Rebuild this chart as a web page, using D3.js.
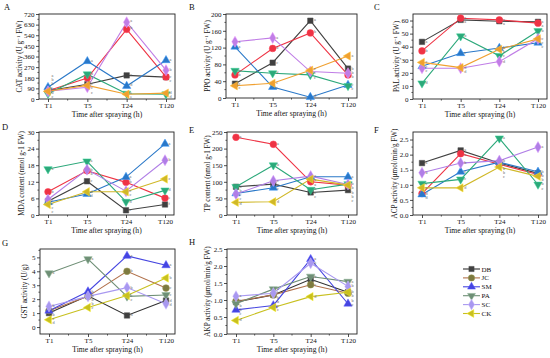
<!DOCTYPE html>
<html><head><meta charset="utf-8">
<script src="https://cdn.jsdelivr.net/npm/d3@7"></script>
<style>body{margin:0;background:#fff}svg{display:block}</style>
</head><body>
<svg id="c" width="550" height="358"></svg>
<script>
// ---------- DATA ----------
const times = ["T1", "T5", "T24", "T120"];
const seriesNames = ["DB", "JC", "SM", "PA", "SC", "CK"];

// rows: DB, JC, SM, PA, SC, CK ; columns: T1, T5, T24, T120
const catValues = [[70,125,200,185],[70,178,590,187],[100,320,110,328],[45,210,45,40],[65,100,650,244],[65,115,40,50]];
const ppoValues = [[34,84,184,70],[55,118,155,55],[122,26,2,31],[65,59,55,29],[134,143,63,59],[29,35,66,100]];
const palValues = [[43.7,60.5,59.5,59],[36.8,61.8,60.5,58],[25,35,39,43],[12,48,33,52],[23.5,23.5,28.6,46],[28,24,38,46]];
const mdaValues = [[5,12.2,1.7,3.8],[8.4,16,11.8,6.1],[4.6,7.6,13.7,25.7],[16.6,19.4,4.8,8.9],[5.6,16.4,8.6,19.8],[3.8,8.4,8.4,13]];
const tpValues  = [[85,93,68,75],[234,213,100,90],[65,82,115,115],[85,150,76,93],[63,103,117,92],[38,40,108,90]];
const acpValues = [[1.72,2.14,1.72,1.38],[0.71,2.03,1.68,1.34],[0.68,1.43,1.75,1.43],[1.04,1.18,2.54,1.01],[1.4,1.72,1.8,2.25],[0.9,0.9,1.59,1.28]];
const gstValues = [[1.0,2.24,0.83,1.9],[1.17,2.2,4.0,2.8],[1.17,2.55,5.1,4.43],[3.86,4.88,2.2,2.3],[1.48,2.2,2.83,1.67],[0.52,1.4,2.26,3.52]];
const akpValues = [[0.94,1.15,1.61,1.23],[0.96,1.15,1.45,1.2],[0.71,0.84,2.2,0.89],[0.89,1.32,1.69,1.54],[1.11,1.2,2.08,1.4],[0.4,0.78,1.1,1.23]];

// significance letters (per series, one char per time point)
const catLetters = ["bccc","bbbc","aada","cbed","bcab","bced"];
const ppoLetters = ["ccab","bbbb","aedc","bdcc","aacb","ceca"];
const palLetters = ["aaaa","baaa","ccbc","dbcb","cddc","cdbc"];
const mdaLetters = ["ccef","bbbe","cdaa","aadd","cbcb","cdcc"];
const tpLetters  = ["bccc","aabb","ccaa","bbcb","ccab","ddab"];
const acpLetters = ["aabb","dabb","dcbb","ccac","bbba","cdcb"];
const gstLetters = ["cbdd","bbbc","bbaa","aacc","bbbd","dccb"];
const akpLetters = ["bbcb","bbcb","ccac","baba","abab","dcdb"];

// tick labels
const catTicks = [0,90,180,270,360,450,540,630,720];
const ppoTicks = [0,40,80,120,160,200];
const palTicks = [0,10,20,30,40,50,60];
const mdaTicks = [0,6,12,18,24,30];
const tpTicks  = [0,50,100,150,200,250];
const acpTicks = [0,0.5,1.0,1.5,2.0,2.5];
const gstTicks = [0,1,2,3,4,5];
const akpTicks = [0,0.5,1.0,1.5,2.0,2.5];

// ---------- STYLE ----------
const pal1 = {line:["#404040","#ee3344","#2a78c8","#2ca87a","#c07ee6","#f0a030"], fill:["#404040","#ee3344","#2a78c8","#2ca87a","#c07ee6","#f0a030"]};
const pal2 = {line:["#404040","#ee3344","#2a78c8","#2ca87a","#b07ee6","#d0b828"], fill:["#404040","#ee3344","#2a78c8","#2ca87a","#b07ee6","#d0b828"]};
const pal3 = {line:["#303030","#b0704a","#4545e0","#6f8f76","#a898f0","#c8c020"], fill:["#404040","#7d7a40","#4545e0","#6f8f76","#a898f0","#c8c020"]};

const font = "'Liberation Serif','Times New Roman',serif";
const svg = d3.select("#c");

const symbols = [
  {t: d3.symbolSquare, s: 30, r: 0},
  {t: d3.symbolCircle, s: 36, r: 0},
  {t: d3.symbolTriangle, s: 30, r: 0},
  {t: d3.symbolTriangle, s: 30, r: 180},
  {t: d3.symbolDiamond, s: 36, r: 0},
  {t: d3.symbolTriangle, s: 30, r: -90}
];

const panels = [
  {id:"A", box:[39,14,175,99],  lp:[4,10],    yd:[0,720],  ticks:catTicks, fmt:d3.format("d"), data:catValues, lets:catLetters, title:["CAT activity (U g","−1"," FW)"], tx:22, pal:pal1},
  {id:"B", box:[226,14,357,98], lp:[189,10],  yd:[0,200],  ticks:ppoTicks, fmt:d3.format("d"), data:ppoValues, lets:ppoLetters, title:["PPO activity (U g","−1"," FW)"], tx:210, pal:pal1},
  {id:"C", box:[413,14,547,99], lp:[374,10],  yd:[0,65],   ticks:palTicks, fmt:d3.format("d"), data:palValues, lets:palLetters, title:["PAL activity (U g","−1"," FW)"], tx:399, pal:pal1},
  {id:"D", box:[39,132,174,215], lp:[2,130],  yd:[0,30],   ticks:mdaTicks, fmt:d3.format("d"), data:mdaValues, lets:mdaLetters, title:["MDA content (nmol g-1 FW)"], tx:24, pal:pal2},
  {id:"E", box:[227,132,357,215], lp:[189,133], yd:[0,250], ticks:tpTicks, fmt:d3.format("d"), data:tpValues, lets:tpLetters, title:["TP content (nmol g-1 FW)"], tx:210, pal:pal2},
  {id:"F", box:[413,132,547,215], lp:[374,133], yd:[0,2.75], ticks:acpTicks, fmt:d3.format(".1f"), data:acpValues, lets:acpLetters, title:["ACP activity  (μmol/min/g FW)"], tx:397, pal:pal2},
  {id:"G", box:[40,249,175,334], lp:[2,246],  yd:[-0.5,5.6], ticks:gstTicks, fmt:d3.format("d"), data:gstValues, lets:gstLetters, title:["GST activity (U/g)"], tx:27, pal:pal3},
  {id:"H", box:[227,249,357,334], lp:[189,245], yd:[0,2.5], ticks:akpTicks, fmt:d3.format(".1f"), data:akpValues, lets:akpLetters, title:["AKP activity (μmol/min/g FW)"], tx:210, pal:pal3}
];

panels.forEach(p => {
  const [x0,y0,x1,y1] = p.box;
  const g = svg.append("g");
  const x = d3.scalePoint().domain(times).range([x0+9, x1-9]);
  const y = d3.scaleLinear().domain(p.yd).range([y1, y0]);

  g.append("text").attr("x", p.lp[0]).attr("y", p.lp[1]).text(p.id)
    .attr("font-family", font).attr("font-size", 8.5).attr("fill","#111");

  g.append("rect").attr("x",x0).attr("y",y0).attr("width",x1-x0).attr("height",y1-y0)
    .attr("fill","none").attr("stroke","#222").attr("stroke-width",0.9);

  const step = p.ticks[1]-p.ticks[0];
  const minor = d3.range(p.ticks[0]+step/2, p.yd[1], step).filter(v => v >= p.yd[0]);
  const ya = d3.axisLeft(y).tickValues(p.ticks).tickFormat(p.fmt).tickSize(3).tickPadding(1.5);
  const yg = g.append("g").attr("transform",`translate(${x0},0)`).call(ya);
  yg.select(".domain").remove();
  yg.selectAll("text").attr("font-family",font).attr("font-size",7).attr("fill","#111");
  yg.selectAll("line").attr("stroke","#222").attr("stroke-width",0.8);
  g.append("g").selectAll("line").data(minor).join("line")
    .attr("x1",x0).attr("x2",x0-1.6).attr("y1",d=>y(d)).attr("y2",d=>y(d))
    .attr("stroke","#222").attr("stroke-width",0.7);

  const xa = d3.axisBottom(x).tickSize(3).tickPadding(1.5);
  const xg = g.append("g").attr("transform",`translate(0,${y1})`).call(xa);
  xg.select(".domain").remove();
  xg.selectAll("text").attr("font-family",font).attr("font-size",7).attr("fill","#111");
  xg.selectAll("line").attr("stroke","#222").attr("stroke-width",0.8);
  const mids = d3.pairs(times).map(([a,b]) => (x(a)+x(b))/2);
  g.append("g").selectAll("line").data(mids).join("line")
    .attr("x1",d=>d).attr("x2",d=>d).attr("y1",y1).attr("y2",y1+1.6)
    .attr("stroke","#222").attr("stroke-width",0.7);

  g.append("text").attr("x",(x0+x1)/2).attr("y",y1+17.5).attr("text-anchor","middle")
    .attr("font-family",font).attr("font-size",7.6).attr("fill","#111").text("Time after spraying (h)");

  const yt = g.append("text").attr("transform",`translate(${p.tx},${(y0+y1)/2}) rotate(-90)`)
    .attr("text-anchor","middle").attr("font-family",font).attr("font-size",7.2).attr("fill","#111");
  yt.append("tspan").text(p.title[0]);
  if (p.title.length > 1) {
    yt.append("tspan").attr("dy",-2.5).attr("font-size",5).text(p.title[1]);
    yt.append("tspan").attr("dy",2.5).text(p.title[2]);
  }

  const line = d3.line().x((d,i)=>x(times[i])).y(d=>y(d));
  p.data.forEach((vals, si) => {
    g.append("path").attr("d", line(vals)).attr("fill","none")
      .attr("stroke", p.pal.line[si]).attr("stroke-width", 1.1);
  });
  p.data.forEach((vals, si) => {
    const sym = symbols[si];
    const path = d3.symbol().type(sym.t).size(sym.s)();
    vals.forEach((v, ti) => {
      g.append("path").attr("d", path)
        .attr("transform", `translate(${x(times[ti])},${y(v)}) rotate(${sym.r})`)
        .attr("fill", p.pal.fill[si]).attr("stroke", d3.color(p.pal.fill[si]).brighter(0.6)).attr("stroke-width",0.5);
    });
  });

  // significance letters, spread vertically so they don't collide
  times.forEach((t, ti) => {
    const items = p.data.map((vals, si) => ({y: y(vals[ti]) + 1, s: p.lets[si][ti]}))
      .sort((a,b) => a.y - b.y);
    const gap = 4.2;
    for (let k = 1; k < items.length; k++) {
      if (items[k].y - items[k-1].y < gap) items[k].y = items[k-1].y + gap;
    }
    const over = items[items.length-1].y - (y1 - 1);
    if (over > 0) items.forEach(it => it.y -= over);
    for (let k = items.length-2; k >= 0; k--) {
      if (items[k+1].y - items[k].y < gap) items[k].y = items[k+1].y - gap;
    }
    items.forEach(it => {
      g.append("text").attr("x", x(t)+3.6).attr("y", it.y)
        .attr("font-family",font).attr("font-size",4.2).attr("fill","#666").text(it.s);
    });
  });
});

// legend
const lg = svg.append("g");
seriesNames.forEach((n, i) => {
  const yy = 269 + i*8.9;
  lg.append("line").attr("x1",463).attr("x2",480).attr("y1",yy).attr("y2",yy)
    .attr("stroke", pal3.line[i]).attr("stroke-width",1.1);
  const sym = symbols[i];
  lg.append("path").attr("d", d3.symbol().type(sym.t).size(sym.s*0.9)())
    .attr("transform",`translate(471.5,${yy}) rotate(${sym.r})`)
    .attr("fill", pal3.fill[i]).attr("stroke", d3.color(pal3.fill[i]).brighter(0.6)).attr("stroke-width",0.5);
  lg.append("text").attr("x",481.5).attr("y",yy+2.5).attr("font-family",font)
    .attr("font-size",7).attr("fill","#111").text(n);
});
</script>
</body></html>
